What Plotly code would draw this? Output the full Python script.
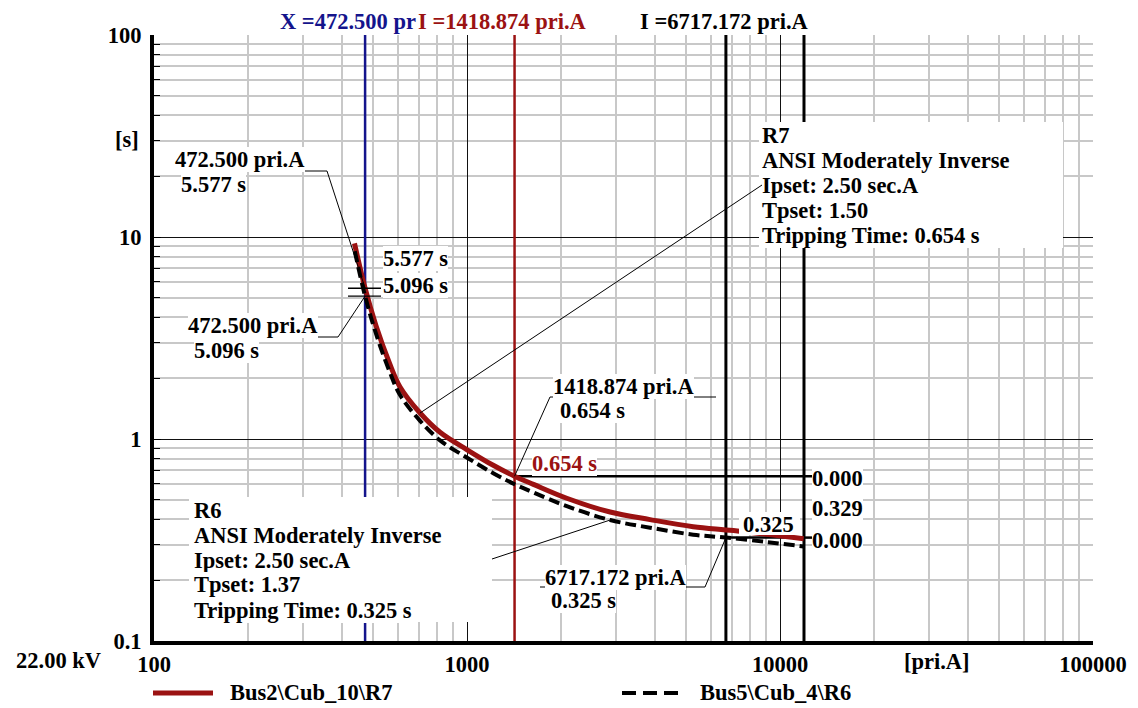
import numpy as np
import plotly.graph_objects as go

# ---------------- data ----------------
R7_I = [437, 472.5, 512, 565, 611, 708, 820, 998, 1213, 1418.874, 1630, 2083,
        2866, 3845, 5280, 7100, 11900]
R7_t = [9.3, 5.577, 3.64, 2.38, 1.81, 1.345, 1.08, 0.887, 0.741, 0.654, 0.596, 0.509,
        0.435, 0.399, 0.368, 0.352, 0.321]

R6_I = [438, 472.5, 512, 565, 611, 708, 820, 998, 1213, 1418.874, 1630, 2083,
        2866, 3845, 5280, 6717.172, 9080, 11900]
R6_t = [8.5, 5.096, 3.32, 2.17, 1.65, 1.23, 0.985, 0.81, 0.677, 0.597, 0.544, 0.465,
        0.397, 0.364, 0.336, 0.325, 0.309, 0.294]

CURSOR_X = 472.5          # blue cursor
CURSOR_I1 = 1418.874      # red cursor
CURSOR_I2 = 6717.172      # black cursor
I_MAX = 11930             # right-hand black line
T_R7 = 0.654
T_R6 = 0.325
T_AT_X = [5.577, 5.096]
T_RANGE = [0.1, 100]

X_TICKS = [100, 1000, 10000, 100000]
Y_TICKS = [0.1, 1, 10, 100]
Y_TICKTEXT = ["0.1", "1", "10", "100"]

R7_INFO = ["R7", "ANSI Moderately Inverse", "Ipset: 2.50 sec.A", "Tpset: 1.50",
           "Tripping Time: 0.654 s"]
R6_INFO = ["R6", "ANSI Moderately Inverse", "Ipset: 2.50 sec.A", "Tpset: 1.37",
           "Tripping Time: 0.325 s"]
LEGEND = ["Bus2\\Cub_10\\R7", "Bus5\\Cub_4\\R6"]

# ---------------- style ----------------
W, H = 1138, 708
ML, MR, MT, MB = 154, 45, 35, 67
PW, PH = W - ML - MR, H - MT - MB
X_RANGE = [2, 5]
Y_RANGE = [-1, 2]
FONT = "Liberation Serif"
FS = 22.5
RED = "#9b1212"
BLUE = "#14148c"
GRAY = "#c8c8c8"
DASH = "11px,5px"


def P(xpx, ypx):
    """pixel position -> paper coordinates (layout helper for labels)"""
    return (xpx - ML) / PW, (H - MB - ypx) / PH


def D(I, t):
    """data value -> paper coordinates"""
    return ((np.log10(I) - X_RANGE[0]) / (X_RANGE[1] - X_RANGE[0]),
            (np.log10(t) - Y_RANGE[0]) / (Y_RANGE[1] - Y_RANGE[0]))


def minors(lo, hi):
    return [m * 10.0 ** d for d in range(lo, hi) for m in range(2, 10)]


fig = go.Figure()
# cursor lines (drawn as traces: above the grid, below the curves)
for xv, col, wd in [(CURSOR_X, BLUE, 2.5), (CURSOR_I1, RED, 2.5),
                    (CURSOR_I2, "black", 3), (I_MAX, "black", 3)]:
    fig.add_trace(go.Scatter(x=[xv, xv], y=T_RANGE, mode="lines", showlegend=False,
                             hoverinfo="skip", line=dict(color=col, width=wd)))
for x0v, tv in [(CURSOR_I1, T_R7), (CURSOR_I2, T_R6)]:
    fig.add_trace(go.Scatter(x=[x0v, I_MAX], y=[tv, tv], mode="lines", showlegend=False,
                             hoverinfo="skip", line=dict(color="black", width=2.5)))

fig.add_trace(go.Scatter(x=R7_I, y=R7_t, mode="lines", name=LEGEND[0], showlegend=False,
                         line=dict(color=RED, width=5, shape="spline")))
fig.add_trace(go.Scatter(x=R6_I, y=R6_t, mode="lines", name=LEGEND[1], showlegend=False,
                         line=dict(color="black", width=4, dash=DASH, shape="spline")))

shapes = []


def box(x0, y0, x1, y1):
    a, b = P(x0, y0)
    c, d = P(x1, y1)
    shapes.append(dict(type="rect", xref="paper", yref="paper", x0=a, x1=c, y0=d, y1=b,
                       fillcolor="white", line=dict(width=0), layer="above"))


# white info boxes and the background of the "0.325" readout
box(759, 122, 1063, 248)
box(189, 497, 492, 622)
box(739, 512, 800, 535)


def seg(p, q, w=1.0, col="black", dash=None):
    shapes.append(dict(type="line", xref="paper", yref="paper", x0=p[0], y0=p[1],
                       x1=q[0], y1=q[1], line=dict(color=col, width=w, dash=dash),
                       layer="above"))


# readout lines reach their labels
for tv in (T_R7, T_R6):
    p = D(I_MAX, tv)
    seg(p, (P(812, 0)[0], p[1]), 2.5)
# small cursor marks at X
for tv in T_AT_X:
    _, yy = D(CURSOR_X, tv)
    seg((P(348, 0)[0], yy), (P(381, 0)[0], yy), 1.3)
# callouts: underline + leader
seg(P(175, 171), P(327, 171)); seg(P(327, 171), D(CURSOR_X, T_AT_X[0]))
seg(P(188, 337), P(338, 337)); seg(P(338, 337), D(CURSOR_X, T_AT_X[1]))
seg(P(550, 397), P(716, 397)); seg(P(550, 397), D(CURSOR_I1, T_R7))
seg(P(540, 587), P(705, 587)); seg(P(705, 587), D(CURSOR_I2, T_R6))
seg(P(762, 185), D(R7_I[5], R7_t[5]))
seg(P(492, 559), D(R6_I[12], R6_t[12]))
# legend samples
seg(P(153, 693), P(213, 693), 5, RED)
seg(P(622, 693), P(681, 693), 4, "black", "14px,7px")

ann = []


def label(txt, xpx, ypx, color="black", bg="white", anchor="left"):
    xx, yy = P(xpx, ypx)
    ann.append(dict(text=txt, x=xx, y=yy, xref="paper", yref="paper", showarrow=False,
                    xanchor=anchor, yanchor="middle", bgcolor=bg, borderpad=0, borderwidth=0,
                    font=dict(family=FONT, size=FS, color=color, weight="bold")))


label("472.500 pri.A", 175, 159)
label("5.577 s", 181, 184)
label("5.577 s", 383, 258)
label("5.096 s", 383, 285)
label("472.500 pri.A", 188, 325)
label("5.096 s", 194, 350)
label("1418.874 pri.A", 553, 386)
label("0.654 s", 560, 410)
label("0.654 s", 532, 463, color=RED)
label("0.000", 812, 478)
label("0.329", 812, 508)
label("0.325", 743, 524, bg=None)
label("0.000", 812, 540)
label("6717.172 pri.A", 545, 577)
label("0.325 s", 551, 600)
for txt, yp in zip(R7_INFO, [135, 161, 185, 210, 236]):
    label(txt, 762, yp)
for txt, yp in zip(R6_INFO, [510, 535, 560, 584, 610]):
    label(txt, 194, yp)
label("[s]", 127, 139, anchor="center", bg=None)
label("[pri.A]", 937, 661, anchor="center", bg=None)
label("22.00 kV", 58, 660, anchor="center", bg=None)
label(LEGEND[0], 230, 692, bg=None)
label(LEGEND[1], 700, 692, bg=None)

# cursor readouts on top
label("X =472.500 pr", 280, 21, color=BLUE, bg=None)
label("I =1418.874 pri.A", 502, 21, color=RED, bg=None, anchor="center")
label("I =6717.172 pri.A", 724, 21, bg=None, anchor="center")

tickfont = dict(family=FONT, size=FS, color="black", weight="bold")
fig.update_layout(
    width=W, height=H, margin=dict(l=ML, r=MR, t=MT, b=MB),
    paper_bgcolor="white", plot_bgcolor="white",
    shapes=shapes, annotations=ann, showlegend=False, hovermode=False,
    xaxis=dict(type="log", range=X_RANGE, tickvals=X_TICKS, ticktext=[str(v) for v in X_TICKS],
               showgrid=True, gridcolor="#111", gridwidth=1.2, showline=True, linecolor="black",
               linewidth=4, ticks="", tickfont=tickfont, automargin=False, zeroline=False,
               minor=dict(tickvals=minors(2, 5), showgrid=True, gridcolor=GRAY, gridwidth=2,
                          ticks="")),
    yaxis=dict(type="log", range=Y_RANGE, tickvals=Y_TICKS, ticktext=Y_TICKTEXT,
               showgrid=True, gridcolor="#111", gridwidth=1.2, showline=True, linecolor="black",
               linewidth=4, ticks="inside", ticklen=7, tickcolor="black", tickfont=tickfont,
               automargin=False, zeroline=False, ticklabelstandoff=4,
               minor=dict(tickvals=minors(-1, 2), showgrid=True, gridcolor=GRAY, gridwidth=2,
                          ticks="inside", ticklen=6, tickcolor="black")),
)

fig.write_html("out.html", config={"displayModeBar": False},
               post_script="document.body.style.margin='0';document.body.style.overflow='hidden';")
